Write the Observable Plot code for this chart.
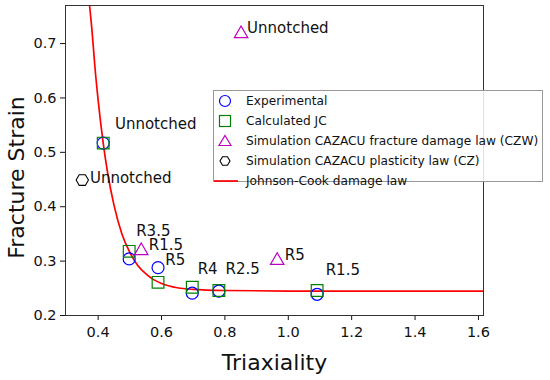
<!DOCTYPE html>
<html>
<head>
<meta charset="utf-8">
<script src="https://cdn.jsdelivr.net/npm/d3@7"></script>
<script src="https://cdn.jsdelivr.net/npm/@observablehq/plot@0.6"></script>
<style>
  html, body { margin: 0; padding: 0; background: #fff; }
  #wrap { position: relative; width: 550px; height: 380px; font-family: "DejaVu Sans", sans-serif; }
  #legend { position: absolute; left: 213px; top: 90px; width: 330px; height: 92px;
            border: 1px solid #999; background: rgba(255,255,255,0.85); box-sizing: border-box;
            font-size: 12.2px; color: #111; }
  #legend .row { position: absolute; left: 0; height: 20px; line-height: 20px; white-space: nowrap; }
  #legend svg { position: absolute; left: 2px; top: 2px; }
  #legend span { position: absolute; left: 32px; top: 0; }
</style>
</head>
<body>
<div id="wrap"></div>
<script>
// Data
const expX = [0.416, 0.498, 0.589, 0.697, 0.781, 1.091];
const expY = [0.517, 0.304, 0.288, 0.241, 0.245, 0.239];
const jcX  = [0.416, 0.498, 0.589, 0.697, 0.781, 1.091];
const jcY  = [0.517, 0.318, 0.261, 0.252, 0.246, 0.246];
const czwX = [0.536, 0.965, 0.851];
const czwY = [0.319, 0.301, 0.718];
const czX  = [0.350];
const czY  = [0.449];
const lawX = [0.373, 0.380, 0.390, 0.400, 0.416, 0.430, 0.450, 0.475, 0.500, 0.525, 0.550, 0.575, 0.600, 0.650, 0.700, 0.800, 1.000, 1.300, 1.616];
const lawY = [0.770, 0.728, 0.656, 0.596, 0.517, 0.462, 0.403, 0.350, 0.316, 0.292, 0.277, 0.266, 0.259, 0.251, 0.248, 0.246, 0.245, 0.245, 0.245];

const labelText = ["Unnotched", "Unnotched", "Unnotched", "R3.5", "R1.5", "R5", "R4", "R2.5", "R5", "R1.5"];
const labelX    = [0.870, 0.453, 0.374, 0.520, 0.560, 0.612, 0.714, 0.802, 0.989, 1.118];
const labelY    = [0.729, 0.551, 0.452, 0.355, 0.329, 0.302, 0.285, 0.285, 0.311, 0.284];

const legendNames = ["Experimental", "Calculated JC", "Simulation CAZACU fracture damage law (CZW)", "Simulation CAZACU plasticity law (CZ)", "Johnson-Cook damage law"];

const xTicks = [0.4, 0.6, 0.8, 1.0, 1.2, 1.4, 1.6];
const yTicks = [0.2, 0.3, 0.4, 0.5, 0.6, 0.7];

const zip = (xs, ys) => xs.map((x, i) => ({x, y: ys[i]}));
const exp = zip(expX, expY), jc = zip(jcX, jcY), czw = zip(czwX, czwY), cz = zip(czX, czY), law = zip(lawX, lawY);
const labels = labelText.map((t, i) => ({t, x: labelX[i], y: labelY[i]}));

// hexagon with vertices left and right (matplotlib style)
const hexH = {
  draw(ctx, size) {
    const r = Math.sqrt(size / (1.5 * Math.sqrt(3)));
    for (let i = 0; i < 6; i++) {
      const a = i * Math.PI / 3;
      const px = r * Math.cos(a), py = r * Math.sin(a);
      if (i === 0) ctx.moveTo(px, py); else ctx.lineTo(px, py);
    }
    ctx.closePath();
  }
};

const chart = Plot.plot({
  width: 550,
  height: 380,
  marginLeft: 65,
  marginRight: 67,
  marginTop: 5,
  marginBottom: 65,
  style: {fontFamily: "DejaVu Sans, sans-serif", fontSize: "14px", color: "#111", background: "#fff"},
  x: {domain: [0.297, 1.616], ticks: xTicks, tickFormat: d3.format(".1f"), label: null},
  y: {domain: [0.2, 0.77], ticks: yTicks, tickFormat: d3.format(".1f"), label: null},
  marks: [
    Plot.line(law, {x: "x", y: "y", stroke: "#ff0000", strokeWidth: 1.7, curve: "monotone-x", clip: true}),
    Plot.dot(exp, {x: "x", y: "y", symbol: "circle", r: 6, stroke: "#0000ff", strokeWidth: 1.2, fill: "none"}),
    Plot.dot(jc, {x: "x", y: "y", symbol: "square", r: 6.6, stroke: "#008000", strokeWidth: 1.2, fill: "none"}),
    Plot.dot(czw, {x: "x", y: "y", symbol: "triangle", r: 5, stroke: "#bf00bf", strokeWidth: 1.2, fill: "none"}),
    Plot.dot(cz, {x: "x", y: "y", symbol: hexH, r: 5.6, stroke: "#000", strokeWidth: 1.1, fill: "none"}),
    Plot.text(labels, {x: "x", y: "y", text: "t", textAnchor: "start", fontSize: 15, fill: "#111"}),
    Plot.axisX({ticks: xTicks, tickFormat: d3.format(".1f"), tickSize: 5, tickPadding: 6, fontSize: 14.5, label: null}),
    Plot.axisY({ticks: yTicks, tickFormat: d3.format(".1f"), tickSize: 5, tickPadding: 4, fontSize: 14.5, label: null}),
    Plot.frame({stroke: "#333", strokeWidth: 1}),
    Plot.text(["Triaxiality"], {frameAnchor: "bottom", lineAnchor: "middle", dy: 47, fontSize: 22, fill: "#111"}),
    Plot.text(["Fracture Strain"], {frameAnchor: "left", textAnchor: "middle", lineAnchor: "middle", dx: -49, dy: 17, rotate: -90, fontSize: 22, fill: "#111"})
  ]
});
chart.style.overflow = "visible";
const wrap = document.getElementById("wrap");
wrap.appendChild(chart);

// Legend overlay
const legend = document.createElement("div");
legend.id = "legend";
const legendSym = [
  `<circle cx="9" cy="8" r="5.5" fill="none" stroke="#0000ff" stroke-width="1.2"/>`,
  `<rect x="3.5" y="2.5" width="11" height="11" fill="none" stroke="#008000" stroke-width="1.2"/>`,
  `<path d="M9,2.5 L15,12.5 L3,12.5 Z" fill="none" stroke="#bf00bf" stroke-width="1.2"/>`,
  `<path d="M14,8 L11.5,12.3 L6.5,12.3 L4,8 L6.5,3.7 L11.5,3.7 Z" fill="none" stroke="#000" stroke-width="1.1"/>`,
  `<line x1="-2" y1="8" x2="22" y2="8" stroke="#ff0000" stroke-width="1.7"/>`
];
legendNames.forEach((name, i) => {
  const row = document.createElement("div");
  row.className = "row";
  row.style.top = (0 + i * 20) + "px";
  row.style.width = "328px";
  row.innerHTML = `<svg width="26" height="16" style="overflow:visible">${legendSym[i]}</svg><span>${name}</span>`;
  legend.appendChild(row);
});
wrap.appendChild(legend);
</script>
</body>
</html>
